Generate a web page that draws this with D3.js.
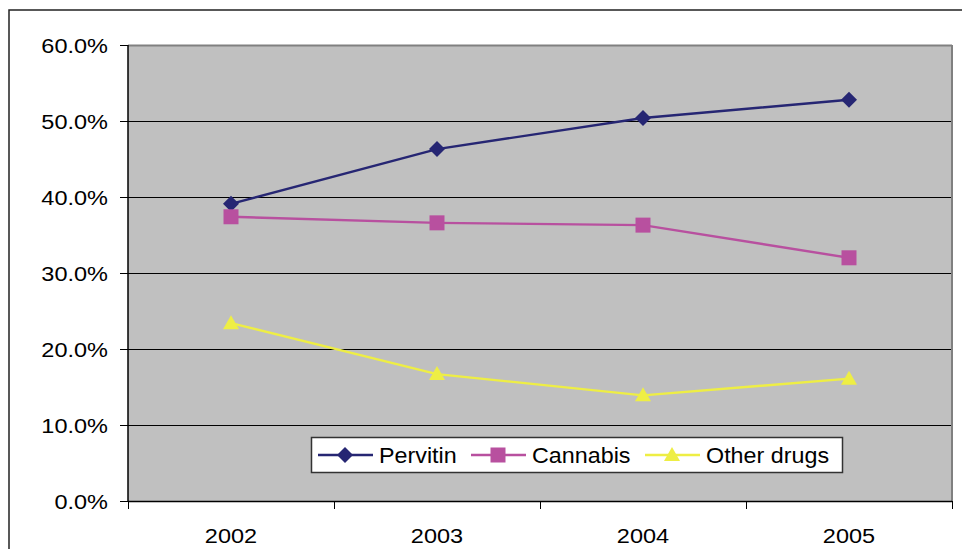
<!DOCTYPE html>
<html>
<head>
<meta charset="utf-8">
<script src="https://cdn.jsdelivr.net/npm/d3@7"></script>
<style>
  html, body { margin: 0; padding: 0; background: #ffffff; }
  svg { display: block; }
  text { font-family: "Liberation Sans", Arial, sans-serif; fill: #000; }
</style>
</head>
<body>
<svg id="chart" width="962" height="549"></svg>
<script>
// Share of drug users by primary drug, 2002–2005
const years = ["2002", "2003", "2004", "2005"];
const pervitin = [0.391, 0.463, 0.504, 0.528];
const cannabis = [0.374, 0.366, 0.363, 0.320];
const otherDrugs = [0.234, 0.167, 0.139, 0.161];
const seriesNames = ["Pervitin", "Cannabis", "Other drugs"];
const yTicks = [0, 0.1, 0.2, 0.3, 0.4, 0.5, 0.6];

const series = [
  { name: seriesNames[0], values: pervitin, color: "#262673", shape: "diamond" },
  { name: seriesNames[1], values: cannabis, color: "#B8509F", shape: "square" },
  { name: seriesNames[2], values: otherDrugs, color: "#EEEE44", shape: "triangle" }
];

const svg = d3.select("#chart");
const plot = { left: 128, top: 45, right: 952, bottom: 501 };

// outer chart frame
svg.append("rect")
  .attr("x", 9).attr("y", 10)
  .attr("width", 1000).attr("height", 600)
  .attr("fill", "#fff").attr("stroke", "#222").attr("stroke-width", 1.5);

const x = d3.scaleBand().domain(years).range([plot.left, plot.right]);
const y = d3.scaleLinear().domain([0, 0.6]).range([plot.bottom, plot.top]);

// plot background
svg.append("rect")
  .attr("x", plot.left).attr("y", plot.top)
  .attr("width", plot.right - plot.left).attr("height", plot.bottom - plot.top)
  .attr("fill", "#C0C0C0");

// gridlines
svg.append("g").selectAll("line")
  .data(yTicks.filter(d => d > 0))
  .join("line")
  .attr("x1", plot.left).attr("x2", plot.right)
  .attr("y1", d => Math.round(y(d)) + 0.5).attr("y2", d => Math.round(y(d)) + 0.5)
  .attr("stroke", d => d === 0.6 ? "#808080" : "#000")
  .attr("stroke-width", d => d === 0.6 ? 2 : 1);

// right plot border
svg.append("line")
  .attr("x1", plot.right).attr("x2", plot.right)
  .attr("y1", plot.top).attr("y2", plot.bottom)
  .attr("stroke", "#808080").attr("stroke-width", 2);

// y axis
const yAxis = svg.append("g");
yAxis.append("line")
  .attr("x1", plot.left).attr("x2", plot.left)
  .attr("y1", plot.top).attr("y2", plot.bottom)
  .attr("stroke", "#000").attr("stroke-width", 1.5);
yAxis.selectAll("line.tick")
  .data(yTicks).join("line").attr("class", "tick")
  .attr("x1", plot.left - 8).attr("x2", plot.left)
  .attr("y1", d => Math.round(y(d)) + 0.5).attr("y2", d => Math.round(y(d)) + 0.5)
  .attr("stroke", "#000").attr("stroke-width", 1);
const pct = d3.format(".1%");
yAxis.selectAll("text")
  .data(yTicks).join("text")
  .attr("transform", d => `translate(108,${y(d) + 7.8}) scale(1.12,1)`)
  .attr("text-anchor", "end")
  .attr("font-size", 21)
  .text(d => pct(d));

// x axis
const xAxis = svg.append("g");
xAxis.append("line")
  .attr("x1", plot.left).attr("x2", plot.right)
  .attr("y1", plot.bottom + 0.5).attr("y2", plot.bottom + 0.5)
  .attr("stroke", "#000").attr("stroke-width", 1.5);
const tickXs = years.map(d => x(d)).concat([x(years[years.length - 1]) + x.bandwidth()]);
xAxis.selectAll("line.tick")
  .data(tickXs).join("line").attr("class", "tick")
  .attr("x1", d => Math.round(d) + 0.5).attr("x2", d => Math.round(d) + 0.5)
  .attr("y1", plot.bottom).attr("y2", plot.bottom + 8)
  .attr("stroke", "#000").attr("stroke-width", 1);
xAxis.selectAll("text")
  .data(years).join("text")
  .attr("transform", d => `translate(${x(d) + x.bandwidth() / 2},542.8) scale(1.12,1)`)
  .attr("text-anchor", "middle")
  .attr("font-size", 21)
  .text(d => d);

// marker shapes
function marker(sel, shape, color) {
  if (shape === "diamond") {
    sel.append("path").attr("d", "M0,-8L8,0L0,8L-8,0Z").attr("fill", color);
  } else if (shape === "square") {
    sel.append("rect").attr("x", -7.5).attr("y", -7.5).attr("width", 15).attr("height", 15).attr("fill", color);
  } else {
    sel.append("path").attr("d", "M0,-8L8,6L-8,6Z").attr("fill", color);
  }
}

const line = d3.line()
  .x((d, i) => x(years[i]) + x.bandwidth() / 2)
  .y(d => y(d));

series.forEach(s => {
  const g = svg.append("g");
  g.append("path")
    .attr("d", line(s.values))
    .attr("fill", "none").attr("stroke", s.color).attr("stroke-width", 2.4);
  s.values.forEach((v, i) => {
    const m = g.append("g")
      .attr("transform", `translate(${x(years[i]) + x.bandwidth() / 2},${y(v)})`);
    marker(m, s.shape, s.color);
  });
});

// legend
const legend = svg.append("g");
legend.append("rect")
  .attr("x", 311.5).attr("y", 437.5).attr("width", 531).attr("height", 35)
  .attr("fill", "#fff").attr("stroke", "#333").attr("stroke-width", 1.5);
const legendX = [318, 471, 645];
series.forEach((s, i) => {
  const lx = legendX[i], ly = 455;
  legend.append("line")
    .attr("x1", lx).attr("x2", lx + 55).attr("y1", ly).attr("y2", ly)
    .attr("stroke", s.color).attr("stroke-width", 2.4);
  const m = legend.append("g").attr("transform", `translate(${lx + 27},${ly})`);
  marker(m, s.shape, s.color);
  legend.append("text")
    .attr("transform", `translate(${lx + 61},463.3) scale(1.06,1)`)
    .attr("font-size", 22)
    .text(s.name);
});
</script>
</body>
</html>
